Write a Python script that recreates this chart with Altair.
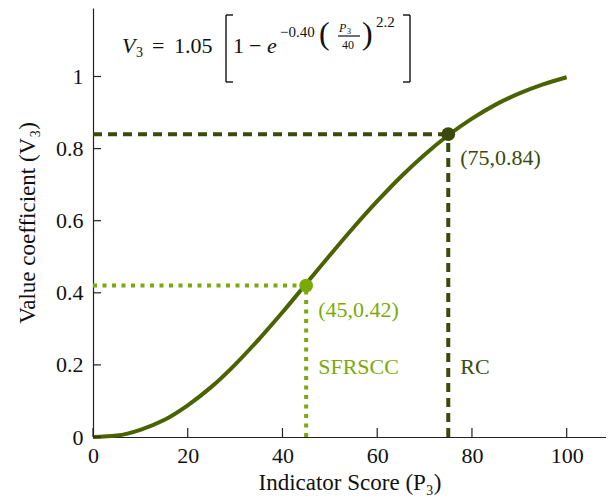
import altair as alt
import pandas as pd

# Curve
score = [0, 5, 10, 15, 20, 25, 30, 35, 40, 45, 50, 55, 60, 65, 70, 75, 80, 85, 90, 95, 100]
value = [0.0, 0.004, 0.020, 0.047, 0.088, 0.139, 0.201, 0.271, 0.346, 0.425, 0.504,
         0.581, 0.654, 0.722, 0.783, 0.837, 0.883, 0.922, 0.953, 0.978, 0.998]

pt_names = ["RC", "SFRSCC"]
pt_x = [75, 45]
pt_y = [0.84, 0.42]
pt_labels = ["(75,0.84)", "(45,0.42)"]

x_ticks = [0, 20, 40, 60, 80, 100]
y_ticks = [0, 0.2, 0.4, 0.6, 0.8, 1]

C_CURVE = "#4a6200"
C_RC = "#3a4a0c"
C_SF = "#7aaa0a"
FONT = "Liberation Serif"

XMAX = 108.3
YMAX = 1.19

xs = alt.Scale(domain=[0, XMAX], nice=False, zero=False)
ys = alt.Scale(domain=[0, YMAX], nice=False, zero=False)

curve_df = pd.DataFrame({"x": score, "y": value})
pts = pd.DataFrame({"name": pt_names, "x": pt_x, "y": pt_y, "label": pt_labels,
                    "zero": [0, 0]})

base_x = alt.X("x:Q", scale=xs,
               axis=alt.Axis(values=x_ticks, title="Indicator Score (P₃)", ticks=False,
                             grid=False, labelFont=FONT, labelFontSize=22, labelColor="#111",
                             labelFlush=False,
                             titleFont=FONT, titleFontSize=23, titleFontWeight="normal",
                             titleColor="#111", labelPadding=8, titlePadding=5,
                             domainColor="#222", domainWidth=1.2))
base_y = alt.Y("y:Q", scale=ys,
               axis=alt.Axis(values=y_ticks, labelExpr="datum.value == 1 ? '1' : datum.value == 0 ? '0' : format(datum.value, '.1f')",
                             title="Value coefficient (V₃)", ticks=False, grid=False,
                             labelFont=FONT, labelFontSize=22, labelColor="#111",
                             labelFlush=False,
                             titleFont=FONT, titleFontSize=23, titleFontWeight="normal",
                             titleColor="#111", labelPadding=10, titlePadding=16,
                             domainColor="#222", domainWidth=1.2))

curve = alt.Chart(curve_df).mark_line(color=C_CURVE, strokeWidth=4, interpolate="monotone").encode(
    x=base_x, y=base_y)

# inward ticks
xt = alt.Chart(pd.DataFrame({"x": x_ticks})).mark_rule(color="#222", strokeWidth=1.2).encode(
    x=alt.X("x:Q", scale=xs), y=alt.value(429), y2=alt.value(420))
yt = alt.Chart(pd.DataFrame({"y": y_ticks})).mark_rule(color="#222", strokeWidth=1.2).encode(
    y=alt.Y("y:Q", scale=ys), x=alt.value(0), x2=alt.value(8))

def guides(name, color, dash, width):
    d = pts[pts.name == name]
    h = alt.Chart(d).mark_rule(color=color, strokeWidth=width, strokeDash=dash).encode(
        x=alt.X("zero:Q", scale=xs), x2="x:Q", y=alt.Y("y:Q", scale=ys))
    v = alt.Chart(d).mark_rule(color=color, strokeWidth=width, strokeDash=dash).encode(
        x=alt.X("x:Q", scale=xs), y=alt.Y("zero:Q", scale=ys), y2="y:Q")
    return h + v

g_rc = guides("RC", C_RC, [9, 6], 4)
g_sf = guides("SFRSCC", C_SF, [4, 5.5], 4)

pt_color = alt.Color("name:N", scale=alt.Scale(domain=pt_names, range=[C_RC, C_SF]), legend=None)
points = alt.Chart(pts).mark_circle(size=190, opacity=1).encode(
    x=alt.X("x:Q", scale=xs), y=alt.Y("y:Q", scale=ys), color=pt_color)
plabels = alt.Chart(pts).mark_text(align="left", baseline="middle", dx=12, dy=24,
                                   font=FONT, fontSize=22).encode(
    x=alt.X("x:Q", scale=xs), y=alt.Y("y:Q", scale=ys), text="label:N", color=pt_color)
nlabels = alt.Chart(pts).mark_text(align="left", baseline="middle", dx=12,
                                   font=FONT, fontSize=22).encode(
    x=alt.X("x:Q", scale=xs), y=alt.value(359), text="name:N", color=pt_color)

# formula pieces, positioned in page pixels minus plot origin
ox, oy = 93, 8
def t(txt, x, y, size=20, style="normal", align="left", baseline="alphabetic"):
    return alt.Chart(pd.DataFrame({"t": [txt]})).mark_text(
        font=FONT, fontSize=size, fontStyle=style, align=align, baseline=baseline,
        color="#111").encode(text="t:N", x=alt.value(x - ox), y=alt.value(y - oy))

def r(x1, y1, x2, y2, w=1.4):
    return alt.Chart(pd.DataFrame({"a": [0]})).mark_rule(color="#111", strokeWidth=w).encode(
        x=alt.value(x1 - ox), x2=alt.value(x2 - ox), y=alt.value(y1 - oy), y2=alt.value(y2 - oy))

formula = (
    t("V", 122, 53, 22, "italic")
    + t("3", 136, 57, 14)
    + t("=", 152, 53, 22)
    + t("1.05", 174, 53, 22)
    + r(226, 15, 226, 82) + r(226, 15, 233, 15) + r(226, 82, 233, 82)
    + t("1", 233, 53, 22)
    + t("−", 249, 53, 22)
    + t("e", 267, 53, 22, "italic")
    + t("−0.40", 280, 37, 15)
    + t("(", 319, 44, 32)
    + t("P", 339, 32, 12, "italic")
    + t("3", 347, 34, 8)
    + r(338, 36, 360, 36, 1.2)
    + t("40", 342, 49, 12)
    + t(")", 362, 44, 32)
    + t("2.2", 376, 27, 15)
    + r(410, 15, 410, 82) + r(403, 15, 410, 15) + r(403, 82, 410, 82)
)

chart = alt.layer(g_sf, g_rc, curve, points, plabels, nlabels, xt, yt, formula).properties(
    width=513, height=429,
    autosize=alt.AutoSizeParams(type="none"),
    padding={"left": 85, "top": 0, "right": 0, "bottom": 59},
).configure_view(stroke=None).configure_axis(domainColor="#222")

chart.save("out.html", embed_options={"renderer": "svg", "actions": False})
